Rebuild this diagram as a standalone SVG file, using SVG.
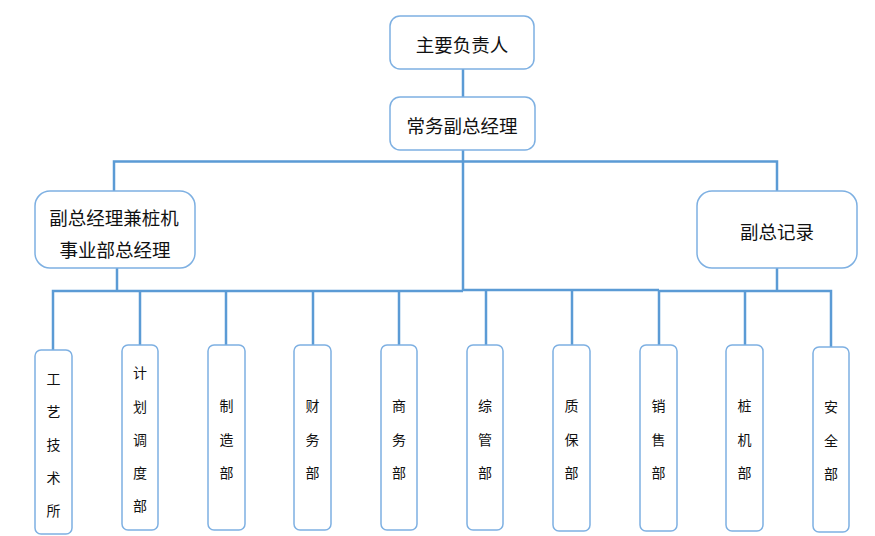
<svg xmlns="http://www.w3.org/2000/svg" width="875" height="536" viewBox="0 0 875 536">
<style>
.box{fill:#ffffff;stroke:#7eb0e2;stroke-width:1.5}
.t{font-family:"Noto Sans CJK SC","Liberation Sans",sans-serif;font-size:18.5px;fill:#111;text-anchor:middle;dominant-baseline:central}
.s{font-family:"Noto Sans CJK SC","Liberation Sans",sans-serif;font-size:14px;fill:#111;text-anchor:middle;dominant-baseline:central}
.c{fill:none;stroke:#5b9bd5;stroke-width:2.5}
</style>
<rect width="875" height="536" fill="#ffffff"/>
<g id="connectors">
<path class="c" d="M463,69V97"/>
<path class="c" d="M463,150V290"/>
<path class="c" d="M114,191V161.5H777V191"/>
<path class="c" d="M117,268V291"/>
<path class="c" d="M777,268V291"/>
<path class="c" d="M53,350V291H463"/>
<path class="c" d="M463,290H659"/>
<path class="c" d="M659,291H831V347"/>
<path class="c" d="M140,291V345"/>
<path class="c" d="M226,291V345"/>
<path class="c" d="M313,291V345"/>
<path class="c" d="M399,291V345"/>
<path class="c" d="M486,290V345"/>
<path class="c" d="M572,290V345"/>
<path class="c" d="M659,290V345"/>
<path class="c" d="M745,291V345"/>
</g>
<g id="n_top"><rect class="box" x="390" y="16" width="144" height="53" rx="10"/><text class="t" x="462" y="44">主要负责人</text></g>
<g id="n_exec"><rect class="box" x="390" y="97" width="145" height="53" rx="10"/><text class="t" x="462" y="125">常务副总经理</text></g>
<g id="n_left"><rect class="box" x="35" y="191" width="160" height="77" rx="15"/><text class="t" x="114" y="217">副总经理兼桩机</text><text class="t" x="115" y="249">事业部总经理</text></g>
<g id="n_right"><rect class="box" x="697" y="191" width="160" height="77" rx="15"/><text class="t" x="777" y="231">副总记录</text></g>
<g id="d1"><rect class="box" x="35" y="350" width="37" height="184" rx="6"/><text class="s" x="53.5" y="378">工</text><text class="s" x="53.5" y="411">艺</text><text class="s" x="53.5" y="444">技</text><text class="s" x="53.5" y="477">术</text><text class="s" x="53.5" y="510">所</text></g>
<g id="d2"><rect class="box" x="122" y="345" width="36" height="185" rx="6"/><text class="s" x="140" y="372">计</text><text class="s" x="140" y="406">划</text><text class="s" x="140" y="439">调</text><text class="s" x="140" y="472">度</text><text class="s" x="140" y="505">部</text></g>
<g id="d3"><rect class="box" x="208" y="345" width="37" height="185" rx="6"/><text class="s" x="226.5" y="405">制</text><text class="s" x="226.5" y="439">造</text><text class="s" x="226.5" y="472">部</text></g>
<g id="d4"><rect class="box" x="294" y="345" width="37" height="185" rx="6"/><text class="s" x="312.5" y="405">财</text><text class="s" x="312.5" y="439">务</text><text class="s" x="312.5" y="472">部</text></g>
<g id="d5"><rect class="box" x="381" y="345" width="36" height="185" rx="6"/><text class="s" x="399" y="405">商</text><text class="s" x="399" y="439">务</text><text class="s" x="399" y="472">部</text></g>
<g id="d6"><rect class="box" x="467" y="345" width="36" height="185" rx="6"/><text class="s" x="485" y="405">综</text><text class="s" x="485" y="439">管</text><text class="s" x="485" y="472">部</text></g>
<g id="d7"><rect class="box" x="553" y="345" width="37" height="186" rx="6"/><text class="s" x="571.5" y="405">质</text><text class="s" x="571.5" y="439">保</text><text class="s" x="571.5" y="472">部</text></g>
<g id="d8"><rect class="box" x="640" y="345" width="37" height="186" rx="6"/><text class="s" x="658.5" y="405">销</text><text class="s" x="658.5" y="439">售</text><text class="s" x="658.5" y="472">部</text></g>
<g id="d9"><rect class="box" x="726" y="345" width="37" height="186" rx="6"/><text class="s" x="744.5" y="405">桩</text><text class="s" x="744.5" y="439">机</text><text class="s" x="744.5" y="472">部</text></g>
<g id="d10"><rect class="box" x="813" y="347" width="36" height="185" rx="6"/><text class="s" x="831" y="406">安</text><text class="s" x="831" y="440">全</text><text class="s" x="831" y="473">部</text></g>
</svg>
